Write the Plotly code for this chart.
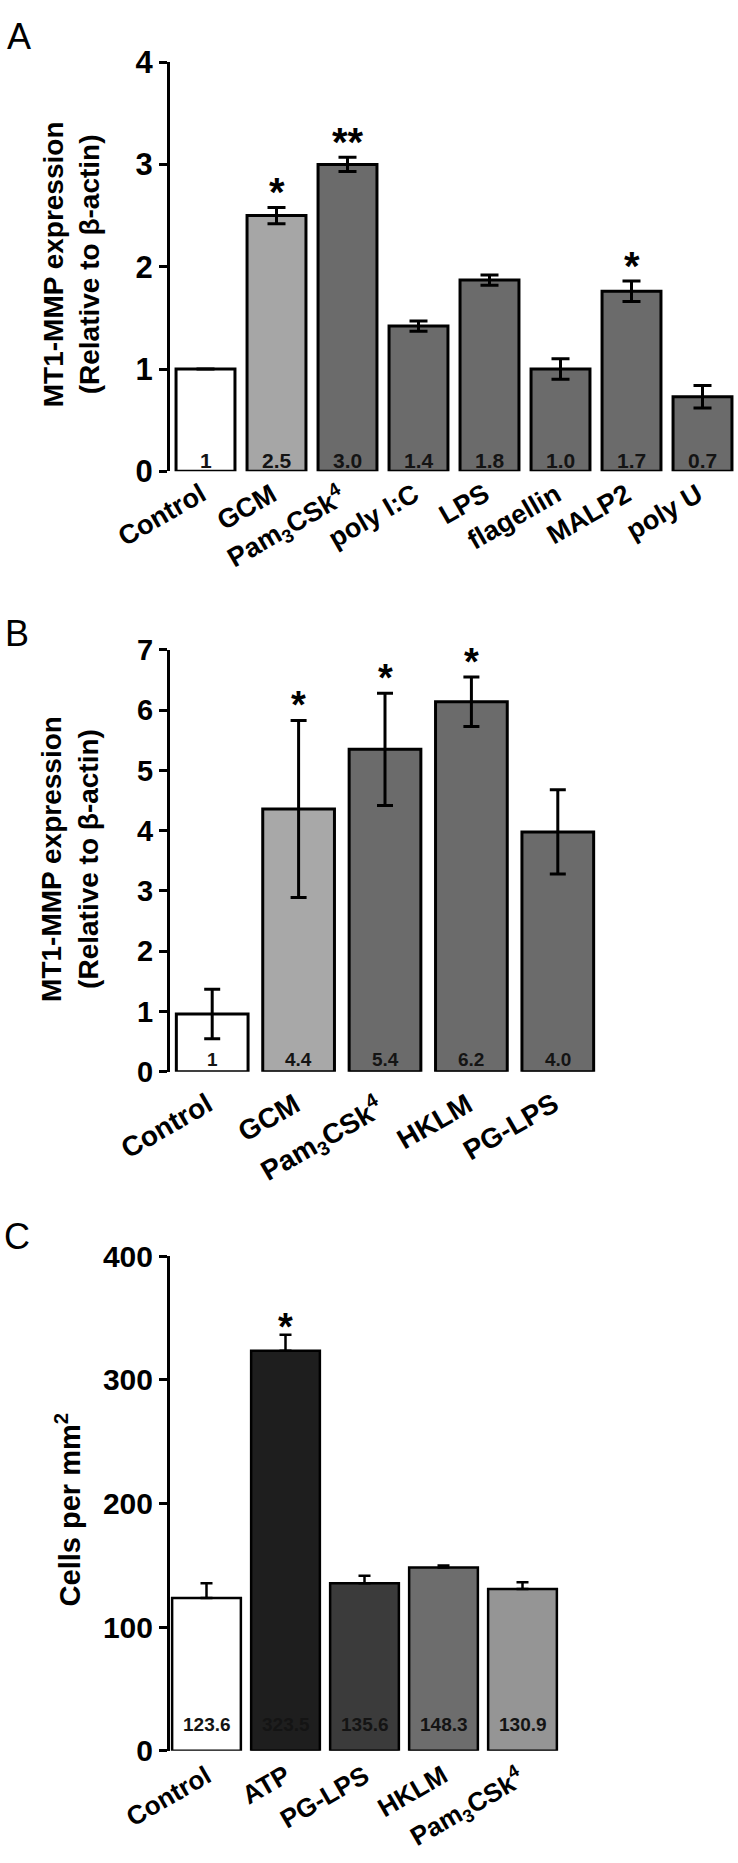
import plotly.graph_objects as go

W, H = 738, 1863

# ---------------- data ----------------
# Panel A
a_cats = ["Control", "GCM", "Pam<sub>3</sub>CSk<sup>4</sup>", "poly I:C", "LPS",
          "flagellin", "MALP2", "poly U"]
a_vals = [1.0, 2.5, 3.0, 1.42, 1.87, 1.0, 1.76, 0.73]
a_err = [None, 0.08, 0.07, 0.05, 0.05, 0.1, 0.1, 0.11]
a_text = ["1", "2.5", "3.0", "1.4", "1.8", "1.0", "1.7", "0.7"]
a_sig = ["", "*", "**", "", "", "", "*", ""]
a_ticks = [0, 1, 2, 3, 4]

# Panel B
b_cats = ["Control", "GCM", "Pam<sub>3</sub>CSk<sup>4</sup>", "HKLM", "PG-LPS"]
b_vals = [0.96, 4.36, 5.35, 6.14, 3.98]
b_err = [0.41, 1.47, 0.93, 0.41, 0.70]
b_text = ["1", "4.4", "5.4", "6.2", "4.0"]
b_sig = ["", "*", "*", "*", ""]
b_ticks = [0, 1, 2, 3, 4, 5, 6, 7]

# Panel C
c_cats = ["Control", "ATP", "PG-LPS", "HKLM", "Pam<sub>3</sub>CSk<sup>4</sup>"]
c_vals = [123.6, 323.5, 135.6, 148.3, 130.9]
c_err = [12, 13, 6, 1.5, 5.5]
c_text = ["123.6", "323.5", "135.6", "148.3", "130.9"]
c_sig = ["", "*", "", "", ""]
c_ticks = [0, 100, 200, 300, 400]

# ---------------- styles ----------------
a_colors = ["#ffffff", "#a6a6a6"] + ["#6b6b6b"] * 6
b_colors = ["#ffffff", "#a8a8a8", "#6b6b6b", "#6b6b6b", "#6b6b6b"]
c_colors = ["#ffffff", "#1e1e1e", "#3b3b3b", "#6d6d6d", "#959595"]

FONT = "Liberation Sans, Arial, Helvetica, sans-serif"
NARROW = "Liberation Sans Narrow, Arial Narrow, Liberation Sans, Arial, sans-serif"


def fy(py):
    return 1 - py / H


def fx(px):
    return px / W


fig = go.Figure()

panels = [
    dict(cats=a_cats, vals=a_vals, err=a_err, text=a_text, sig=a_sig,
         colors=a_colors, xa="x", ya="y", width=0.83, lw=3, ew=3, ecap=9,
         sym=True, inner=(11, 21, NARROW), star=(40, 15), lab=(27, -30, 8, -4)),
    dict(cats=b_cats, vals=b_vals, err=b_err, text=b_text, sig=b_sig,
         colors=b_colors, xa="x2", ya="y2", width=0.83, lw=3, ew=3, ecap=8,
         sym=True, inner=(12, 19, FONT), star=(38, 15), lab=(28, -30, 9, -13)),
    dict(cats=c_cats, vals=c_vals, err=c_err, text=c_text, sig=c_sig,
         colors=c_colors, xa="x3", ya="y3", width=0.87, lw=2.5, ew=2.5, ecap=6,
         sym=False, inner=(26, 19, FONT), star=(38, 8), lab=(26, -30, 12, -6)),
]

for p in panels:
    n = len(p["cats"])
    ey = dict(type="data", array=p["err"], visible=True, color="black",
              thickness=p["ew"], width=p["ecap"])
    if not p["sym"]:
        ey["symmetric"] = False
        ey["arrayminus"] = [0] * n
    fig.add_trace(go.Bar(
        x=list(range(n)), y=p["vals"], width=p["width"],
        marker=dict(color=p["colors"], line=dict(color="black", width=p["lw"])),
        error_y=ey, xaxis=p["xa"], yaxis=p["ya"], showlegend=False,
        hoverinfo="skip",
    ))

annotations = []

for p in panels:
    # value printed at the foot of each bar
    ysh, fs, fam = p["inner"]
    for i, t in enumerate(p["text"]):
        annotations.append(dict(
            x=i, y=0, xref=p["xa"], yref=p["ya"], text=t, showarrow=False,
            xanchor="center", yanchor="middle", yshift=ysh,
            font=dict(family=fam, size=fs, color="#141414", weight="bold")))
    # significance asterisks
    fs, ysh = p["star"]
    for i, s in enumerate(p["sig"]):
        if not s:
            continue
        top = p["vals"][i] + (p["err"][i] or 0)
        annotations.append(dict(
            x=i, y=top, xref=p["xa"], yref=p["ya"], text=s, showarrow=False,
            xanchor="center", yanchor="middle", yshift=ysh,
            font=dict(family=FONT, size=fs, color="black", weight="bold")))
    # rotated category labels under the bars
    fs, ang, xsh, ysh = p["lab"]
    for i, c in enumerate(p["cats"]):
        annotations.append(dict(
            x=i, y=0, xref=p["xa"], yref=p["ya"], text=c, showarrow=False,
            textangle=ang, xanchor="right", yanchor="top", xshift=xsh, yshift=ysh,
            font=dict(family=FONT, size=fs, color="black", weight="bold")))

# axis titles
annotations += [
    dict(x=fx(71), y=fy(252), xref="paper", yref="paper", showarrow=False,
         xanchor="center", yanchor="middle",
         text="MT1-MMP expression<br>(Relative to β-actin)", textangle=-90,
         font=dict(family=FONT, size=28, color="black", weight="bold")),
    dict(x=fx(70), y=fy(858), xref="paper", yref="paper", showarrow=False,
         xanchor="center", yanchor="middle",
         text="MT1-MMP expression<br>(Relative to β-actin)", textangle=-90,
         font=dict(family=FONT, size=28, color="black", weight="bold")),
    dict(x=fx(68), y=fy(1522), xref="paper", yref="paper", showarrow=False,
         xanchor="center", yanchor="middle",
         text="Cells per mm<sup>2</sup>", textangle=-90,
         font=dict(family=FONT, size=29, color="black", weight="bold")),
]

# panel letters
for letter, px, py in [("A", 19, 20), ("B", 17, 628), ("C", 17, 1243)]:
    annotations.append(dict(x=fx(px), y=fy(py), xref="paper", yref="paper",
                            xanchor="center", yanchor="middle",
                            text=letter, showarrow=False,
                            font=dict(family=FONT, size=36, color="black")))


def yax(domain, ticks, rng, lw, fs, fam=FONT):
    return dict(domain=domain, range=rng, tickvals=ticks, ticktext=[str(t) for t in ticks],
                showline=True, linecolor="black", linewidth=lw, ticks="outside",
                ticklen=8, tickwidth=lw, tickcolor="black", showgrid=False,
                zeroline=False, tickfont=dict(family=fam, size=fs, color="black", weight="bold"),
                fixedrange=True)


def xax(domain, n, anchor):
    return dict(domain=domain, range=[-0.5, n - 0.5], showticklabels=False,
                showline=False, showgrid=False, zeroline=False, ticks="",
                anchor=anchor, fixedrange=True)


fig.update_layout(
    width=W, height=H, margin=dict(l=0, r=0, t=0, b=0),
    paper_bgcolor="white", plot_bgcolor="white",
    xaxis=xax([fx(170), 1.0], len(a_cats), "y"),
    yaxis=yax([fy(463), fy(46)], a_ticks, [0, 4], 3, 31, NARROW),
    xaxis2=xax([fx(169), fx(601)], len(b_cats), "y2"),
    yaxis2=yax([fy(1075), fy(645)], b_ticks, [0, 7], 3, 29),
    xaxis3=xax([fx(167), fx(562)], len(c_cats), "y3"),
    yaxis3=yax([fy(1767), fy(1263)], c_ticks, [0, 400], 3, 30),
    annotations=annotations,
)

POST = (
    "document.documentElement.style.margin='0';"
    "document.body.style.margin='0';"
    "document.body.style.padding='0';"
    "document.documentElement.style.overflow='hidden';"
    "document.body.style.overflow='hidden';"
    "document.querySelectorAll('.main-svg, .svg-container').forEach(function(s){s.style.overflow='hidden';});"
)

fig.write_html("out.html", config={"displayModeBar": False}, post_script=POST)
